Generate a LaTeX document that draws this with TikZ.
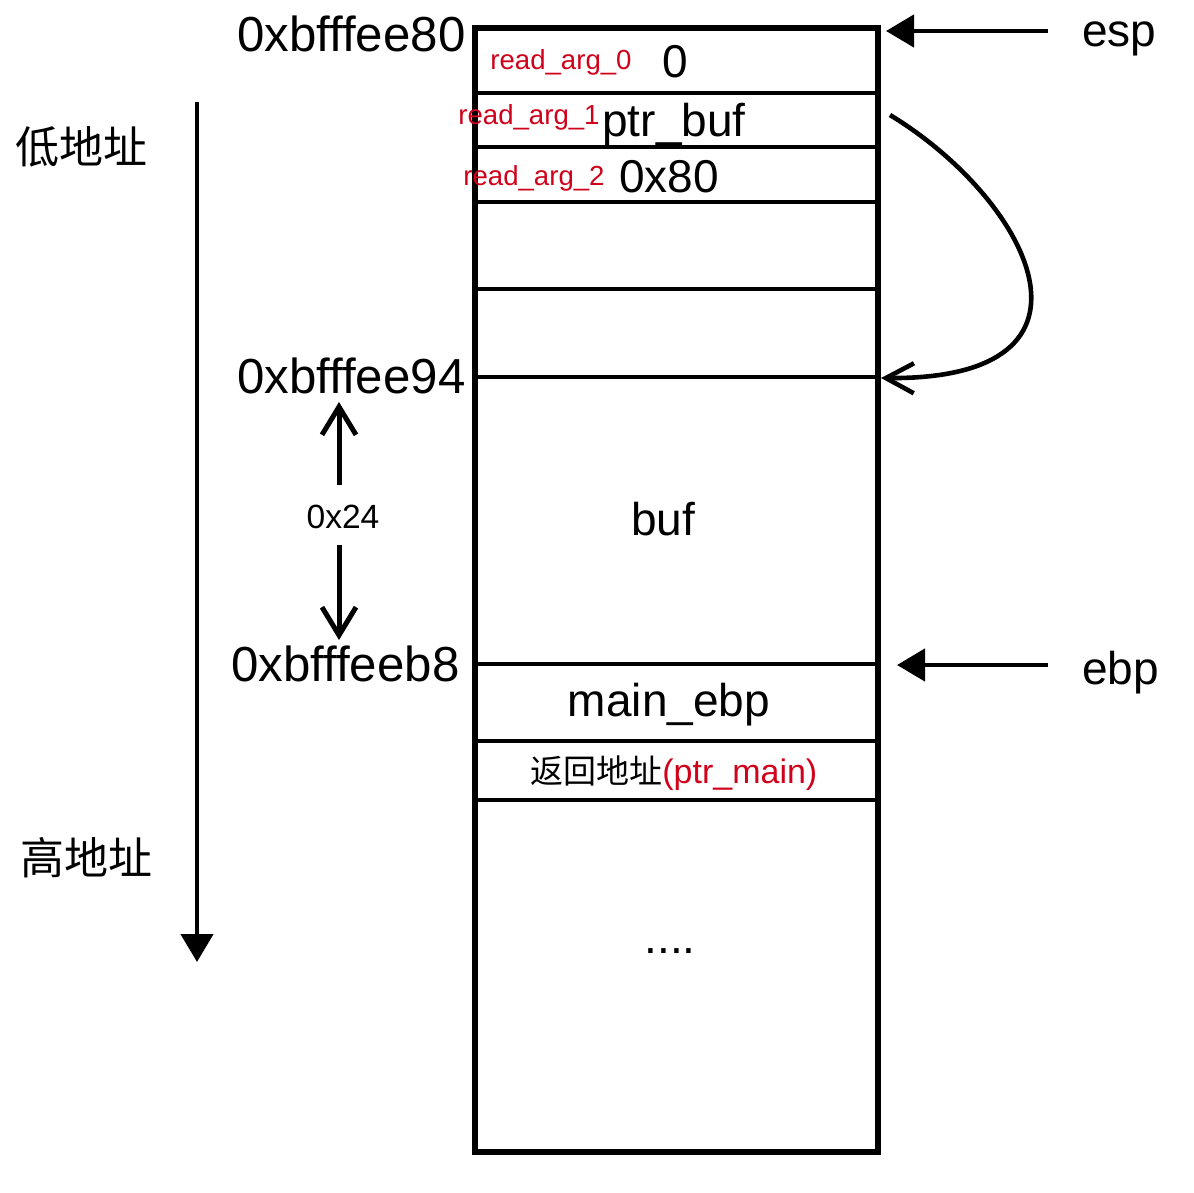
\documentclass[tikz,border=0pt]{standalone}
\usepackage{fontspec}
\setmainfont{Liberation Sans}
\newfontfamily\cjk{Noto Sans CJK SC}
\usetikzlibrary{arrows.meta,positioning}
\definecolor{argred}{RGB}{208,2,27}

\begin{document}
\begin{tikzpicture}[x=0.5pt,y=-0.5pt,
    big/.style={font=\fontsize{23}{26}\selectfont,inner sep=0pt},
    addr/.style={font=\fontsize{24.6}{28}\selectfont,inner sep=0pt},
    arg/.style={font=\fontsize{13.8}{16}\selectfont,text=argred,inner sep=0pt},
    cjklbl/.style={font=\cjk\fontsize{22}{26}\selectfont,inner sep=0pt},
    frame/.style={line width=2.8pt},
    sep/.style={line width=2.4pt},
    ptr/.style={line width=2.3pt,-{Triangle[length=14pt,width=16pt]}},
    span/.style={line width=2.5pt,-{Straight Barb[length=14pt,width=17pt]}}]
    \useasboundingbox (0,0) rectangle (1194,1193);

    % Stack frame
    \draw[frame] (475,28) rectangle (878,1152);
    \coordinate (topR) at (886,31);
    \coordinate (ebpR) at (897,665);
    \foreach \y in {93,147,202,289,377,664,741,800}
      \draw[sep] (475,\y) -- (878,\y);

    % Cell contents
    \node[arg,anchor=base west] (arg0) at (490,70) {read\_arg\_0};
    \node[big,anchor=base west] (val0) at (662,78) {0};
    \node[arg,anchor=base west] (arg1) at (458,125) {read\_arg\_1};
    \node[big,anchor=base west] (val1) at (602,137) {ptr\_buf};
    \node[arg,anchor=base west] (arg2) at (463,185) {read\_arg\_2};
    \node[big,anchor=base west] (val2) at (619,192) {0x80};
    \node[big,anchor=base] (buf) at (663,535) {buf};
    \node[big,anchor=base] (mainebp) at (669,716) {main\_ebp};
    \node[anchor=base west,inner sep=0pt] (ret) at (530,783)
      {{\cjk\fontsize{16.5}{20}\selectfont 返回地址}{\fontsize{17}{20}\selectfont\color{argred}(ptr\_main)}};
    \node[big,anchor=base] (more) at (670,953) {....};

    % Addresses on the left
    \node[addr,anchor=base west] (a80) at (237,52) {0xbfffee80};
    \node[addr,anchor=base west] (a94) at (237,393) {0xbfffee94};
    \node[addr,anchor=base west] (ab8) at (231,681) {0xbfffeeb8};
    \node[font=\fontsize{16.8}{20}\selectfont,inner sep=0pt,anchor=base] (off) at (343,528) {0x24};
    \coordinate (offTop) at (339,402);
    \coordinate (offBot) at (339,640);
    \draw[span] (339,485) -- (offTop);
    \draw[span] (339,545) -- (offBot);

    % Address direction
    \node[cjklbl,anchor=west] (low) at (15,147) {低地址};
    \node[cjklbl,anchor=west] (high) at (20,858) {高地址};
    \coordinate (dirTop) at (197,102);
    \coordinate (dirBot) at (197,962);
    \draw[ptr] (dirTop) -- (dirBot);

    % Registers
    \node[big,anchor=base west] (esp) at (1082,47) {esp};
    \node[big,anchor=base west] (ebp) at (1082,684) {ebp};
    \draw[ptr] (1048,31) -- (topR);
    \draw[ptr] (1048,665) -- (ebpR);

    % ptr_buf points to buf
    \coordinate (bufStart) at (890,115);
    \coordinate (bufEnd) at (881,378);
    \draw[line width=2.3pt,-{Straight Barb[length=14pt,width=15pt]}]
      (bufStart) .. controls (1030,200) and (1122,380) .. (bufEnd);
  \end{tikzpicture}
\end{document}
